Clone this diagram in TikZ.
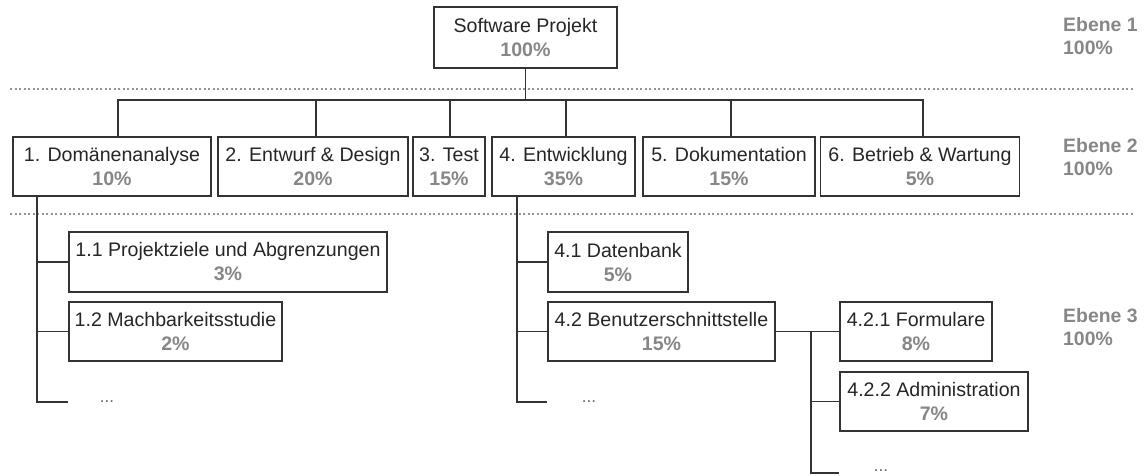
\documentclass[tikz,border=0pt]{standalone}
\usepackage{fontspec}
\setmainfont{Liberation Sans}
\definecolor{txt}{HTML}{262626}
\definecolor{pct}{HTML}{878787}
\definecolor{ln}{HTML}{333333}
\definecolor{dotc}{HTML}{959595}
\tikzset{
  box/.style={draw=ln, line width=1.7pt, minimum height=59pt, inner sep=0pt,
    align=center, font=\fontsize{19.6}{24}\selectfont, text=txt, fill=white},
  conn/.style={draw=ln, line width=1.7pt},
  sepline/.style={draw=dotc, line width=2.6pt, dash pattern=on 2pt off 2.5pt},
  lvl/.style={font=\fontsize{19.4}{22.5}\selectfont\bfseries, text=pct,
    align=left, anchor=west, inner sep=0pt},
  more/.style={font=\fontsize{17}{17}\selectfont, text=txt!70, inner sep=0pt}
}
\newcommand{\pc}[1]{{\bfseries\color{pct}#1}}
\begin{document}
\begin{tikzpicture}[x=1pt,y=-1pt]
\useasboundingbox (0,0) rectangle (1144,476);
\fill[white] (0,0) rectangle (1144,476);

% separators
\coordinate (s1a) at (10,89);  \coordinate (s1b) at (1134,89);
\coordinate (s2a) at (10,214); \coordinate (s2b) at (1134,214);
\draw[sepline] (s1a) -- (s1b);
\draw[sepline] (s2a) -- (s2b);

% level 1
\node[box, minimum width=183pt, minimum height=61pt] (top) at (525.5,37.5) {Software Projekt\\\pc{100\%}};

% level 2
\node[box, minimum width=198pt] (b1) at (112,166.5) {1. Domänenanalyse\\\pc{10\%}};
\node[box, minimum width=190pt] (b2) at (313,166.5) {2. Entwurf \& Design\\\pc{20\%}};
\node[box, minimum width=72pt]  (b3) at (449,166.5) {3. Test\\\pc{15\%}};
\node[box, minimum width=143pt] (b4) at (563.5,166.5) {4. Entwicklung\\\pc{35\%}};
\node[box, minimum width=172pt] (b5) at (729,166.5) {5. Dokumentation\\\pc{15\%}};
\node[box, minimum width=199pt] (b6) at (920,166.5) {6. Betrieb \& Wartung\\\pc{5\%}};

% level 3
\node[box, minimum width=318pt, minimum height=60pt] (b11) at (228,262) {1.1 Projektziele und Abgrenzungen\\\pc{3\%}};
\node[box, minimum width=213pt] (b12) at (175.5,331.5) {1.2 Machbarkeitsstudie\\\pc{2\%}};
\node[box, minimum width=140pt, minimum height=60pt] (b41) at (618,262) {4.1 Datenbank\\\pc{5\%}};
\node[box, minimum width=227pt] (b42) at (661.5,331.5) {4.2 Benutzerschnittstelle\\\pc{15\%}};
\node[box, minimum width=152pt] (b421) at (916,331.5) {4.2.1 Formulare\\\pc{8\%}};
\node[box, minimum width=188pt] (b422) at (934,401.5) {4.2.2 Administration\\\pc{7\%}};

\node[more] (m1) at (107,402) {...};
\node[more] (m4) at (589,402) {...};
\node[more] (m42) at (881,471) {...};

% level labels
\node[lvl] (l1) at (1063,36) {Ebene 1\\100\%};
\node[lvl] (l2) at (1063,157) {Ebene 2\\100\%};
\node[lvl] (l3) at (1063,327) {Ebene 3\\100\%};

% connectors level 1 -> 2
\coordinate (bus) at (0,100);
\coordinate (bot) at (0,473);
\draw[conn] (top.south) -- (top.south |- bus);
\draw[conn] ([xshift=6pt]b1.north) -- ([xshift=6pt]b1.north |- bus) -- ([xshift=3pt]b6.north |- bus) -- ([xshift=3pt]b6.north);
\foreach \n/\s in {b2/3,b3/1,b4/2.5,b5/2}
  \draw[conn] ([xshift=\s pt]\n.north) -- ([xshift=\s pt]\n.north |- bus);

% subtree 1
\coordinate (v1) at ([xshift=25pt]b1.south west);
\draw[conn] (v1) |- (b11.west |- m1);
\draw[conn] (b11.west) -- (b11.west -| v1);
\draw[conn] (b12.west) -- (b12.west -| v1);

% subtree 4
\coordinate (v4) at ([xshift=26pt]b4.south west);
\draw[conn] (v4) |- (b41.west |- m4);
\draw[conn] (b41.west) -- (b41.west -| v4);
\draw[conn] (b42.west) -- (b42.west -| v4);

% subtree 4.2
\draw[conn] (b42.east) -- (b421.west);
\coordinate (v42) at ([xshift=35pt]b42.east);
\draw[conn] (v42) |- (b421.west |- bot);
\draw[conn] (b422.west) -- (b422.west -| v42);
\end{tikzpicture}
\end{document}
